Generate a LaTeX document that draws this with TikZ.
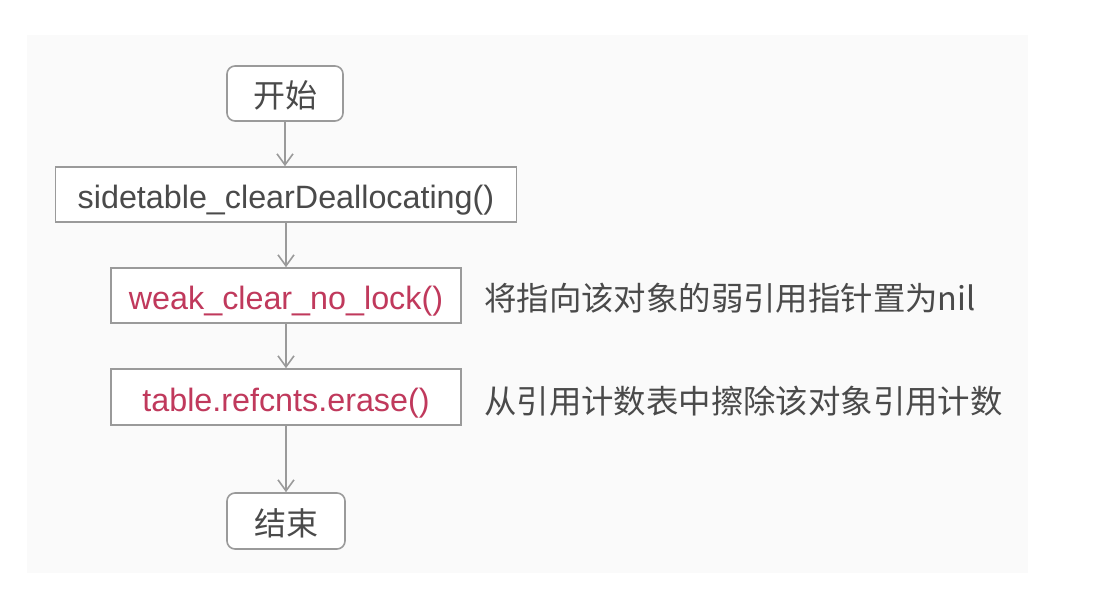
\documentclass[tikz,border=0pt]{standalone}
\usepackage{fontspec}
\setmainfont{Liberation Sans}
\newfontfamily\cjk{Noto Sans CJK SC}
\usetikzlibrary{arrows.meta}
\definecolor{txtgray}{HTML}{4A4A4A}
\definecolor{linegray}{HTML}{9A9A9A}
\definecolor{codered}{HTML}{C0395C}
\definecolor{bggray}{HTML}{FAFAFA}
\tikzset{
  box/.style={draw=linegray, line width=1.6pt, fill=white, minimum height=55pt, inner sep=0pt, text height=30pt, text depth=2pt, text=txtgray, font=\fontsize{32.3}{36}\selectfont},
  roundbox/.style={box, rounded corners=8pt, font=\cjk\fontsize{32}{36}\selectfont},
  redtext/.style={text=codered},
  note/.style={anchor=west, inner sep=0pt, text=txtgray, font=\cjk\fontsize{32.4}{36}\selectfont},
  flow/.style={draw=linegray, line width=1.6pt, -{Straight Barb[length=11pt,width=16pt,line width=1.6pt]}}
}
\begin{document}
\begin{tikzpicture}[x=1pt,y=-1pt]
\useasboundingbox (0,0) rectangle (1104,610);
\fill[white] (0,0) rectangle (1104,610);
\fill[bggray] (27,35) rectangle (1028,573);
\node[roundbox, minimum width=116pt] (start) at (285,93.5) {开始};
\node[box, minimum width=461pt] (side) at (286,194.5) {sidetable\_clearDeallocating()};
\node[box, redtext, minimum width=350pt] (weak) at (286,295.5) {weak\_clear\_no\_lock()};
\node[box, redtext, minimum width=350pt, minimum height=56pt] (erase) at (286,397) {table.refcnts.erase()};
\node[roundbox, minimum width=118pt, minimum height=56pt] (end) at (286,521) {结束};
\node[note] (n1) at (484,298) {将指向该对象的弱引用指针置为nil};
\node[note] (n2) at (484,401) {从引用计数表中擦除该对象引用计数};
\draw[flow] (start) -- (start |- side.north);
\draw[flow] (side) -- (weak);
\draw[flow] (weak) -- (erase);
\draw[flow] (erase) -- (end);
\end{tikzpicture}
\end{document}
